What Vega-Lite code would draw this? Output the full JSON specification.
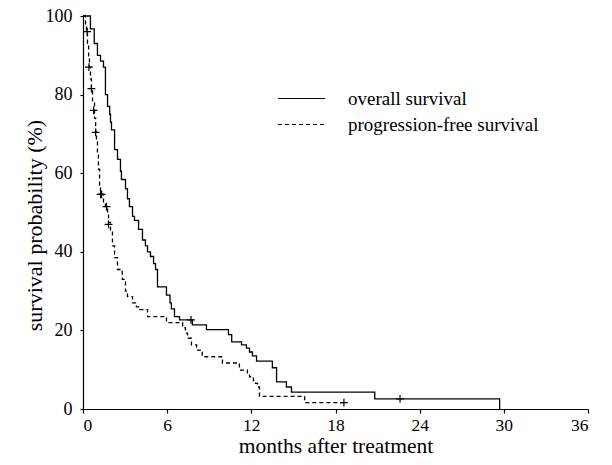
{
  "$schema": "https://vega.github.io/schema/vega-lite/v6.json",
  "width": 505,
  "height": 393,
  "autosize": {"type": "none"},
  "padding": {"left": 83, "top": 16, "right": 24, "bottom": 56},
  "background": "white",
  "config": {
    "view": {"stroke": null},
    "font": "Liberation Serif",
    "axis": {
      "grid": false,
      "domainColor": "black",
      "tickColor": "black",
      "labelColor": "black",
      "titleColor": "black",
      "labelFont": "Liberation Serif",
      "titleFont": "Liberation Serif",
      "titleFontWeight": "normal",
      "labelFontSize": 18,
      "titleFontSize": 22,
      "domainWidth": 1.2,
      "tickWidth": 1.2
    },
    "legend": {
      "labelFont": "Liberation Serif",
      "labelFontSize": 19,
      "labelColor": "black",
      "labelLimit": 0
    }
  },
  "datasets": {
    "curves": [
      {"t": 0, "s": 100, "series": "overall survival"},
      {"t": 0.53, "s": 96.7, "series": "overall survival"},
      {"t": 0.8, "s": 93, "series": "overall survival"},
      {"t": 1.03, "s": 90, "series": "overall survival"},
      {"t": 1.25, "s": 88.5, "series": "overall survival"},
      {"t": 1.46, "s": 87, "series": "overall survival"},
      {"t": 1.6, "s": 80, "series": "overall survival"},
      {"t": 1.75, "s": 77, "series": "overall survival"},
      {"t": 1.9, "s": 75, "series": "overall survival"},
      {"t": 1.96, "s": 73, "series": "overall survival"},
      {"t": 2.03, "s": 71, "series": "overall survival"},
      {"t": 2.25, "s": 66, "series": "overall survival"},
      {"t": 2.46, "s": 63.5, "series": "overall survival"},
      {"t": 2.67, "s": 60.5, "series": "overall survival"},
      {"t": 2.74, "s": 58.4, "series": "overall survival"},
      {"t": 3.03, "s": 56, "series": "overall survival"},
      {"t": 3.17, "s": 53.5, "series": "overall survival"},
      {"t": 3.31, "s": 51.5, "series": "overall survival"},
      {"t": 3.53, "s": 49, "series": "overall survival"},
      {"t": 3.67, "s": 48, "series": "overall survival"},
      {"t": 3.96, "s": 45.7, "series": "overall survival"},
      {"t": 4.24, "s": 43, "series": "overall survival"},
      {"t": 4.45, "s": 41.5, "series": "overall survival"},
      {"t": 4.6, "s": 40, "series": "overall survival"},
      {"t": 4.81, "s": 38.8, "series": "overall survival"},
      {"t": 5.03, "s": 37, "series": "overall survival"},
      {"t": 5.17, "s": 35.5, "series": "overall survival"},
      {"t": 5.31, "s": 31.1, "series": "overall survival"},
      {"t": 5.95, "s": 29, "series": "overall survival"},
      {"t": 6.2, "s": 27, "series": "overall survival"},
      {"t": 6.3, "s": 25.5, "series": "overall survival"},
      {"t": 6.52, "s": 23.5, "series": "overall survival"},
      {"t": 6.88, "s": 22.7, "series": "overall survival"},
      {"t": 7.8, "s": 21.4, "series": "overall survival"},
      {"t": 8.8, "s": 20.2, "series": "overall survival"},
      {"t": 10.37, "s": 18.9, "series": "overall survival"},
      {"t": 10.6, "s": 17.1, "series": "overall survival"},
      {"t": 11.3, "s": 16.3, "series": "overall survival"},
      {"t": 11.65, "s": 15.5, "series": "overall survival"},
      {"t": 11.87, "s": 14.5, "series": "overall survival"},
      {"t": 12.08, "s": 13.5, "series": "overall survival"},
      {"t": 12.37, "s": 12.2, "series": "overall survival"},
      {"t": 13.5, "s": 10.5, "series": "overall survival"},
      {"t": 13.8, "s": 6.9, "series": "overall survival"},
      {"t": 14.5, "s": 5.6, "series": "overall survival"},
      {"t": 14.86, "s": 4.3, "series": "overall survival"},
      {"t": 20.8, "s": 2.6, "series": "overall survival"},
      {"t": 29.7, "s": 0, "series": "overall survival"},
      {"t": 0, "s": 100, "series": "progression-free survival"},
      {"t": 0.18, "s": 98, "series": "progression-free survival"},
      {"t": 0.25, "s": 96, "series": "progression-free survival"},
      {"t": 0.32, "s": 93, "series": "progression-free survival"},
      {"t": 0.4, "s": 89.5, "series": "progression-free survival"},
      {"t": 0.46, "s": 87, "series": "progression-free survival"},
      {"t": 0.53, "s": 84, "series": "progression-free survival"},
      {"t": 0.6, "s": 81, "series": "progression-free survival"},
      {"t": 0.68, "s": 78, "series": "progression-free survival"},
      {"t": 0.82, "s": 74, "series": "progression-free survival"},
      {"t": 0.9, "s": 70.5, "series": "progression-free survival"},
      {"t": 0.96, "s": 68, "series": "progression-free survival"},
      {"t": 1.03, "s": 65, "series": "progression-free survival"},
      {"t": 1.1, "s": 61, "series": "progression-free survival"},
      {"t": 1.18, "s": 57, "series": "progression-free survival"},
      {"t": 1.25, "s": 54.6, "series": "progression-free survival"},
      {"t": 1.46, "s": 52.5, "series": "progression-free survival"},
      {"t": 1.6, "s": 51.5, "series": "progression-free survival"},
      {"t": 1.75, "s": 50, "series": "progression-free survival"},
      {"t": 1.82, "s": 47.5, "series": "progression-free survival"},
      {"t": 1.96, "s": 45, "series": "progression-free survival"},
      {"t": 2.1, "s": 41.5, "series": "progression-free survival"},
      {"t": 2.25, "s": 38.5, "series": "progression-free survival"},
      {"t": 2.46, "s": 35.5, "series": "progression-free survival"},
      {"t": 2.8, "s": 33, "series": "progression-free survival"},
      {"t": 3.03, "s": 30, "series": "progression-free survival"},
      {"t": 3.17, "s": 28.6, "series": "progression-free survival"},
      {"t": 3.53, "s": 27, "series": "progression-free survival"},
      {"t": 3.81, "s": 26, "series": "progression-free survival"},
      {"t": 4.03, "s": 25.3, "series": "progression-free survival"},
      {"t": 4.6, "s": 23.5, "series": "progression-free survival"},
      {"t": 5.95, "s": 22, "series": "progression-free survival"},
      {"t": 7.1, "s": 20.7, "series": "progression-free survival"},
      {"t": 7.3, "s": 19.3, "series": "progression-free survival"},
      {"t": 7.45, "s": 18, "series": "progression-free survival"},
      {"t": 7.73, "s": 16.3, "series": "progression-free survival"},
      {"t": 8.1, "s": 15, "series": "progression-free survival"},
      {"t": 8.5, "s": 13.3, "series": "progression-free survival"},
      {"t": 9.94, "s": 11.7, "series": "progression-free survival"},
      {"t": 11.15, "s": 9.9, "series": "progression-free survival"},
      {"t": 11.72, "s": 9, "series": "progression-free survival"},
      {"t": 11.87, "s": 8.2, "series": "progression-free survival"},
      {"t": 12.15, "s": 7.2, "series": "progression-free survival"},
      {"t": 12.3, "s": 6.5, "series": "progression-free survival"},
      {"t": 12.44, "s": 5.6, "series": "progression-free survival"},
      {"t": 12.58, "s": 3.2, "series": "progression-free survival"},
      {"t": 15.8, "s": 1.6, "series": "progression-free survival"},
      {"t": 18.6, "s": 1.6, "series": "progression-free survival"}
    ],
    "censor": [
      {"t": 7.7, "s": 22.7},
      {"t": 22.6, "s": 2.6},
      {"t": 0.3, "s": 96},
      {"t": 0.42, "s": 87},
      {"t": 0.6, "s": 81.5},
      {"t": 0.76, "s": 76},
      {"t": 0.9, "s": 70.4},
      {"t": 1.25, "s": 54.6},
      {"t": 1.33, "s": 54.6},
      {"t": 1.68, "s": 51.5},
      {"t": 1.82, "s": 47},
      {"t": 18.6, "s": 1.6}
    ]
  },
  "layer": [
    {
      "data": {"name": "curves"},
      "mark": {"type": "line", "interpolate": "step-after", "color": "black", "strokeWidth": 1.3},
      "encoding": {
        "x": {
          "field": "t", "type": "quantitative",
          "scale": {"domain": [0, 36], "nice": false, "zero": true},
          "axis": {"values": [0, 6, 12, 18, 24, 30, 36], "title": "months after treatment", "tickSize": 4, "labelPadding": 3, "titlePadding": 2, "labelFontSize": 17.5, "titleFontSize": 21.5}
        },
        "y": {
          "field": "s", "type": "quantitative",
          "scale": {"domain": [0, 100], "nice": false},
          "axis": {"values": [0, 20, 40, 60, 80, 100], "title": "survival probability (%)", "tickSize": 3, "labelPadding": 8, "titleX": -37, "titleY": 209}
        },
        "strokeDash": {
          "field": "series", "type": "nominal",
          "scale": {"domain": ["overall survival", "progression-free survival"], "range": [[1, 0], [4, 3]]},
          "legend": {
            "title": null,
            "orient": "none",
            "legendX": 209,
            "legendY": 73,
            "symbolType": "M-4.7,0H4.7",
            "symbolSize": 100,
            "symbolStrokeWidth": 1.2,
            "symbolStrokeColor": "black",
            "labelOffset": 37,
            "rowPadding": 6
          }
        }
      }
    },
    {
      "data": {"name": "censor"},
      "mark": {"type": "point", "shape": "M-1,0H1M0,-1V1", "filled": false, "color": "black", "size": 60, "strokeWidth": 1.2, "opacity": 1},
      "encoding": {
        "x": {"field": "t", "type": "quantitative"},
        "y": {"field": "s", "type": "quantitative"}
      }
    }
  ]
}
